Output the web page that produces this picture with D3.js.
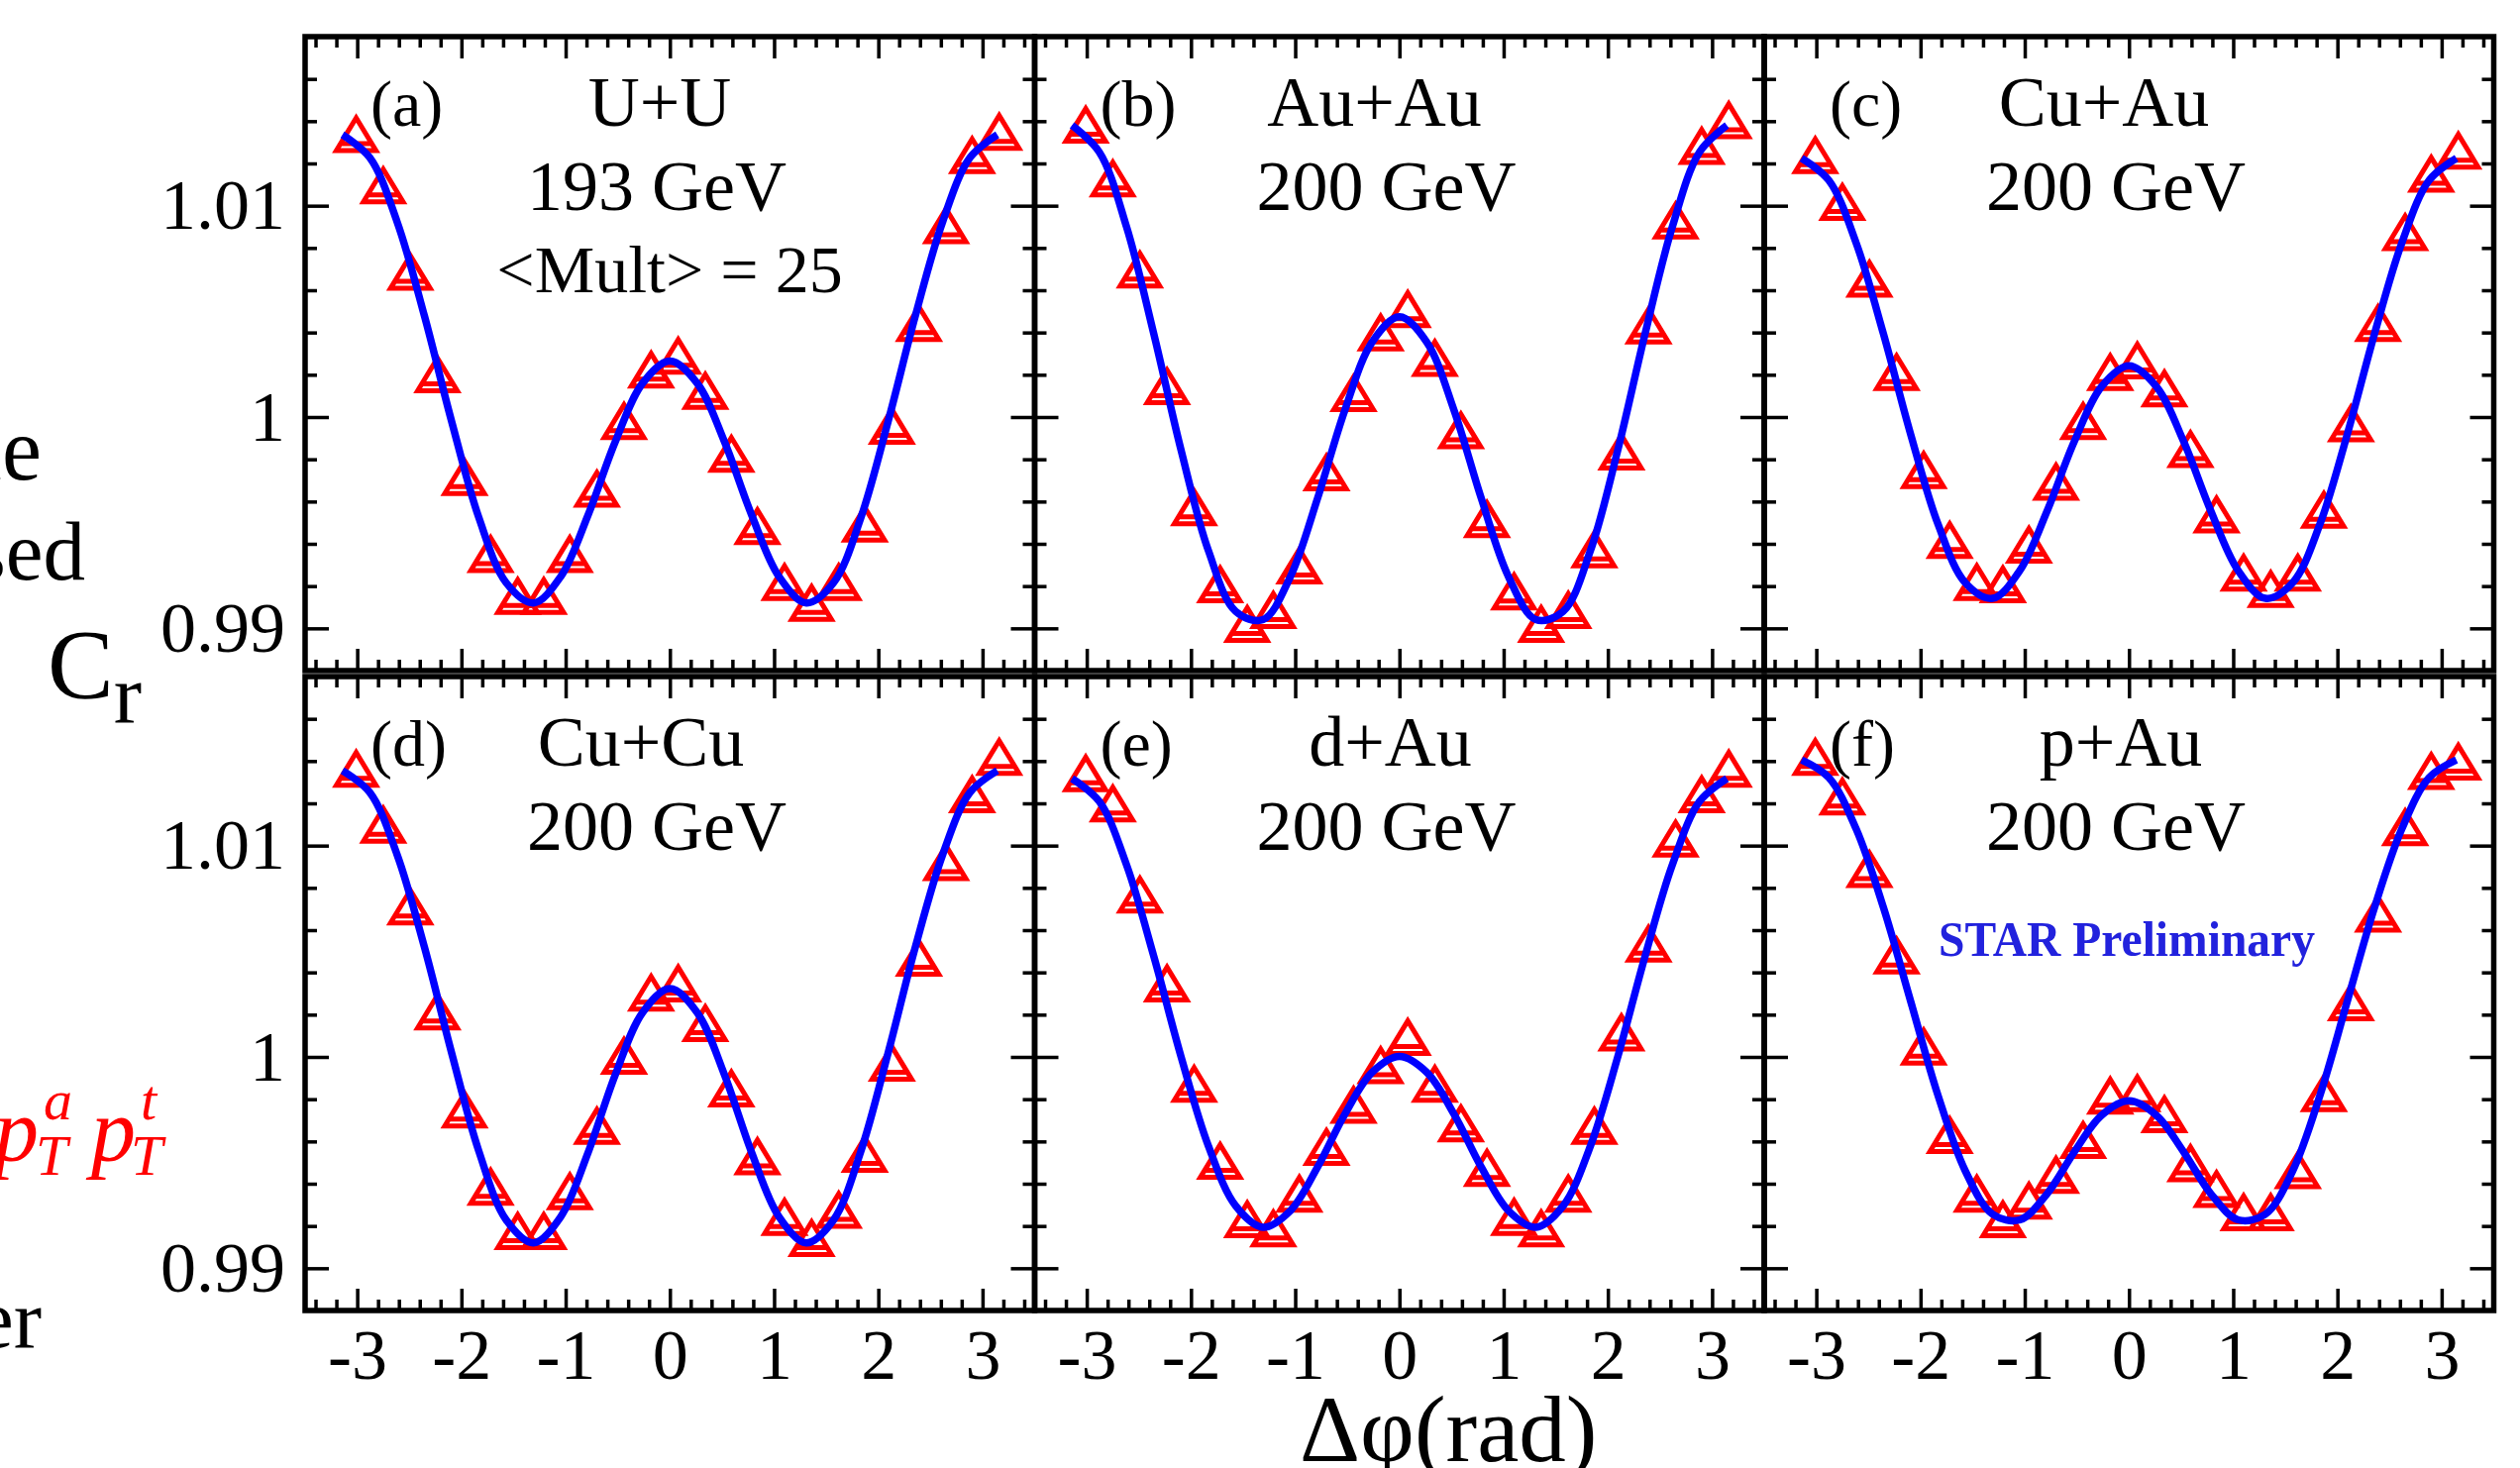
<!DOCTYPE html>
<html>
<head>
<meta charset="utf-8">
<script src="https://cdn.jsdelivr.net/npm/d3@7"></script>
<style>
  body { margin: 0; background: #fff; }
  svg { display: block; }
  text { font-family: "Liberation Serif", "Times New Roman", serif; fill: #000; }
</style>
</head>
<body>
<svg id="chart" width="2544" height="1482"></svg>
<script>
// ---- data ----
const xMajor = [-3, -2, -1, 0, 1, 2, 3];
const xTickLabels = ["-3", "-2", "-1", "0", "1", "2", "3"];
const yMajor = [0.99, 1, 1.01];
const yTickLabels = ["0.99", "1", "1.01"];

const panelTags = ["(a)", "(b)", "(c)", "(d)", "(e)", "(f)"];
const systems = ["U+U", "Au+Au", "Cu+Au", "Cu+Cu", "d+Au", "p+Au"];
const energies = ["193 GeV", "200 GeV", "200 GeV", "200 GeV", "200 GeV", "200 GeV"];

// delta phi of the measured points
const dphi = [-3.01, -2.75, -2.49, -2.23, -1.97, -1.72, -1.46, -1.21, -0.96, -0.70, -0.44, -0.18,
              0.08, 0.34, 0.59, 0.84, 1.10, 1.36, 1.62, 1.87, 2.13, 2.39, 2.65, 2.90, 3.16];

const crUU   = [1.01336, 1.01093, 1.00684, 1.00199, 0.99713, 0.99349, 0.99150, 0.99150, 0.99349, 0.99658, 0.99978, 1.00221,
                1.00287, 1.00121, 0.99823, 0.99481, 0.99216, 0.99117, 0.99216, 0.99492, 0.99956, 1.00442, 1.00905, 1.01236, 1.01347];
const crAuAu = [1.01380, 1.01126, 1.00695, 1.00143, 0.99570, 0.99205, 0.99018, 0.99084, 0.99294, 0.99735, 1.00110, 1.00397,
                1.00508, 1.00276, 0.99934, 0.99514, 0.99172, 0.99018, 0.99084, 0.99371, 0.99834, 1.00430, 1.00927, 1.01280, 1.01402];
const crCuAu = [1.01236, 1.01015, 1.00651, 1.00210, 0.99746, 0.99415, 0.99216, 0.99205, 0.99393, 0.99691, 0.99978, 1.00210,
                1.00265, 1.00132, 0.99845, 0.99536, 0.99260, 0.99183, 0.99260, 0.99558, 0.99967, 1.00442, 1.00872, 1.01148, 1.01258];
const crCuCu = [1.01361, 1.01096, 1.00709, 1.00212, 0.99748, 0.99383, 0.99173, 0.99173, 0.99361, 0.99671, 1.00002, 1.00301,
                1.00345, 1.00157, 0.99848, 0.99527, 0.99240, 0.99140, 0.99273, 0.99538, 0.99969, 1.00466, 1.00919, 1.01240, 1.01417];
const crDAu  = [1.01339, 1.01196, 1.00765, 1.00345, 0.99870, 0.99505, 0.99229, 0.99185, 0.99350, 0.99571, 0.99770, 0.99958,
                1.00091, 0.99870, 0.99682, 0.99472, 0.99240, 0.99185, 0.99350, 0.99671, 1.00113, 1.00533, 1.01030, 1.01240, 1.01361];
const crPAu  = [1.01417, 1.01229, 1.00886, 1.00477, 1.00046, 0.99627, 0.99350, 0.99229, 0.99317, 0.99439, 0.99604, 0.99814,
                0.99825, 0.99726, 0.99494, 0.99372, 0.99262, 0.99262, 0.99461, 0.99825, 1.00256, 1.00675, 1.01084, 1.01350, 1.01394];

// fitted curve, read at steps of pi/12
const fitX = [-3.142, -2.880, -2.618, -2.356, -2.094, -1.833, -1.571, -1.309, -1.047, -0.785, -0.524, -0.262,
              0, 0.262, 0.524, 0.785, 1.047, 1.309, 1.571, 1.833, 2.094, 2.356, 2.618, 2.880, 3.142];
const fitUU   = [1.01336, 1.01228, 1.00925, 1.00480, 0.99979, 0.99524, 0.99216, 0.99120, 0.99245, 0.99536, 0.99883, 1.00160, 1.00265,
                 1.00160, 0.99883, 0.99536, 0.99245, 0.99120, 0.99216, 0.99524, 0.99979, 1.00480, 1.00925, 1.01228, 1.01336];
const fitAuAu = [1.01380, 1.01254, 1.00899, 1.00392, 0.99841, 0.99368, 0.99080, 0.99041, 0.99244, 0.99616, 1.00032, 1.00355, 1.00475,
                 1.00355, 1.00032, 0.99616, 0.99244, 0.99041, 0.99080, 0.99368, 0.99841, 1.00392, 1.00899, 1.01254, 1.01380];
const fitCuAu = [1.01225, 1.01120, 1.00824, 1.00394, 0.99917, 0.99494, 0.99216, 0.99142, 0.99274, 0.99556, 0.99885, 1.00145, 1.00243,
                 1.00145, 0.99885, 0.99556, 0.99274, 0.99142, 0.99216, 0.99494, 0.99917, 1.00394, 1.00824, 1.01120, 1.01225];
const fitCuCu = [1.01355, 1.01252, 1.00958, 1.00521, 1.00019, 0.99554, 0.99229, 0.99120, 0.99244, 0.99547, 0.99915, 1.00210, 1.00323,
                 1.00210, 0.99915, 0.99547, 0.99244, 0.99120, 0.99229, 0.99554, 1.00019, 1.00521, 1.00958, 1.01252, 1.01355];
const fitDAu  = [1.01317, 1.01209, 1.00908, 1.00475, 0.99999, 0.99579, 0.99295, 0.99194, 0.99272, 0.99479, 0.99729, 0.99927, 1.00002,
                 0.99927, 0.99729, 0.99479, 0.99272, 0.99194, 0.99295, 0.99579, 0.99999, 1.00475, 1.00908, 1.01209, 1.01317];
const fitPAu  = [1.01406, 1.01322, 1.01079, 1.00707, 1.00262, 0.99819, 0.99461, 0.99256, 0.99229, 0.99353, 0.99551, 0.99724, 0.99792,
                 0.99724, 0.99551, 0.99353, 0.99229, 0.99256, 0.99461, 0.99819, 1.00262, 1.00707, 1.01079, 1.01322, 1.01406];

const pointSets = [crUU, crAuAu, crCuAu, crCuCu, crDAu, crPAu];
const fitSets = [fitUU, fitAuAu, fitCuAu, fitCuCu, fitDAu, fitPAu];

// ---- layout ----
const colLeft = [308, 1044.5, 1781];
const rowTop = [37, 683];
const pw = 736.5, ph = 640;
const nameCenter = [358, 343, 343, 339, 359, 360];

const svg = d3.select("#chart");
const x = d3.scaleLinear().domain([-3.5, 3.5]).range([0, pw]);
const y = d3.scaleLinear().domain([0.988, 1.018]).range([ph, 0]);

const xMinor = d3.range(-34, 35, 2).map(v => v / 10).filter(v => !xMajor.includes(v));
const yMinor = d3.range(990, 1018, 2).map(v => v / 1000).filter(v => !yMajor.some(m => Math.abs(m - v) < 1e-9));

// open triangle with the doubled base line seen on the markers
const tri = "M-20,16 L20,16 L0,-17 Z M-15,9 L15,9";
const line = d3.line().x(d => x(d[0])).y(d => y(d[1])).curve(d3.curveCatmullRom);

function ticks(g, axis, tx, ty, size) {
    const a = g.append("g").attr("transform", `translate(${tx},${ty})`)
        .call(axis.tickSize(size).tickFormat(""));
    a.select(".domain").remove();
    a.selectAll("line").attr("stroke", "#000").attr("stroke-width", 3.5);
}

pointSets.forEach((pts, i) => {
    const col = i % 3, row = Math.floor(i / 3);
    const g = svg.append("g").attr("transform", `translate(${colLeft[col]},${rowTop[row]})`);

    // inward ticks on all four sides
    [[xMajor, 22], [xMinor, 11]].forEach(([vals, s]) => {
        ticks(g, d3.axisTop(x).tickValues(vals), 0, ph, s);
        ticks(g, d3.axisBottom(x).tickValues(vals), 0, 0, s);
    });
    [[yMajor, 24], [yMinor, 12]].forEach(([vals, s]) => {
        ticks(g, d3.axisRight(y).tickValues(vals), 0, 0, s);
        ticks(g, d3.axisLeft(y).tickValues(vals), pw, 0, s);
    });

    // markers
    g.append("g").selectAll("path")
        .data(dphi.map((v, j) => [v, pts[j]]))
        .join("path")
        .attr("transform", d => `translate(${x(d[0])},${y(d[1])})`)
        .attr("d", tri)
        .attr("fill", "none")
        .attr("stroke", "#ff0000")
        .attr("stroke-width", 5);

    // fit
    g.append("path")
        .datum(fitX.map((v, j) => [v, fitSets[i][j]]))
        .attr("d", line)
        .attr("fill", "none")
        .attr("stroke", "#0000ff")
        .attr("stroke-width", 7.5);

    // frame
    g.append("rect").attr("width", pw).attr("height", ph)
        .attr("fill", "none").attr("stroke", "#000").attr("stroke-width", 5.5);

    // labels
    g.append("text").attr("x", 66).attr("y", 90).attr("font-size", 66).text(panelTags[i]);
    g.append("text").attr("x", nameCenter[i]).attr("y", 90).attr("text-anchor", "middle")
        .attr("font-size", 72).text(systems[i]);
    g.append("text").attr("x", 355).attr("y", 175).attr("text-anchor", "middle")
        .attr("font-size", 72).text(energies[i]);

    if (i === 0) {
        g.append("text").attr("x", 368).attr("y", 258).attr("text-anchor", "middle")
            .attr("font-size", 68).text("<Mult> = 25");
    }
    if (i === 5) {
        g.append("text").attr("x", 366).attr("y", 282).attr("text-anchor", "middle")
            .attr("font-size", 50).attr("font-weight", "bold")
            .style("fill", "#2222dd")
            .attr("textLength", 380).attr("lengthAdjust", "spacingAndGlyphs")
            .text("STAR Preliminary");
    }

    // tick labels
    if (col === 0) {
        const a = g.append("g").call(d3.axisLeft(y).tickValues(yMajor).tickSize(0).tickPadding(20)
            .tickFormat((d, k) => yTickLabels[k]));
        a.select(".domain").remove();
        a.selectAll("text").attr("font-size", 72).attr("font-family", "Liberation Serif");
    }
    if (row === 1) {
        const a = g.append("g").attr("transform", `translate(0,${ph})`)
            .call(d3.axisBottom(x).tickValues(xMajor).tickSize(0).tickPadding(18)
            .tickFormat((d, k) => xTickLabels[k]));
        a.select(".domain").remove();
        a.selectAll("text").attr("font-size", 72).attr("font-family", "Liberation Serif");
    }
});

// axis titles
svg.append("text").attr("x", 1312).attr("y", 1475).attr("font-size", 95).text("\u0394\u03c6(rad)");
const cr = svg.append("text").attr("x", 48).attr("y", 704).attr("font-size", 100);
cr.append("tspan").text("C");
cr.append("tspan").attr("font-size", 85).attr("dy", 25).text("r");

// text of the neighbouring slide column, cut off at the left edge
svg.append("text").attr("x", 42).attr("y", 484).attr("text-anchor", "end").attr("font-size", 90).text("le");
svg.append("text").attr("x", 86).attr("y", 585).attr("text-anchor", "end").attr("font-size", 85).text("sed");
svg.append("text").attr("x", 42).attr("y", 1360).attr("text-anchor", "end").attr("font-size", 85).text("ter");

// red p_T^a p_T^t, also cut at the left edge
const red = svg.append("g").style("font-style", "italic");
const redText = (tx, ty, fs, s) => red.append("text").attr("x", tx).attr("y", ty)
    .attr("font-size", fs).style("fill", "#ff0000").text(s);
redText(-6, 1172, 90, "p");
redText(36, 1186, 58, "T");
redText(44, 1130, 58, "a");
redText(92, 1172, 90, "p");
redText(132, 1186, 58, "T");
redText(142, 1130, 58, "t");
</script>
</body>
</html>
